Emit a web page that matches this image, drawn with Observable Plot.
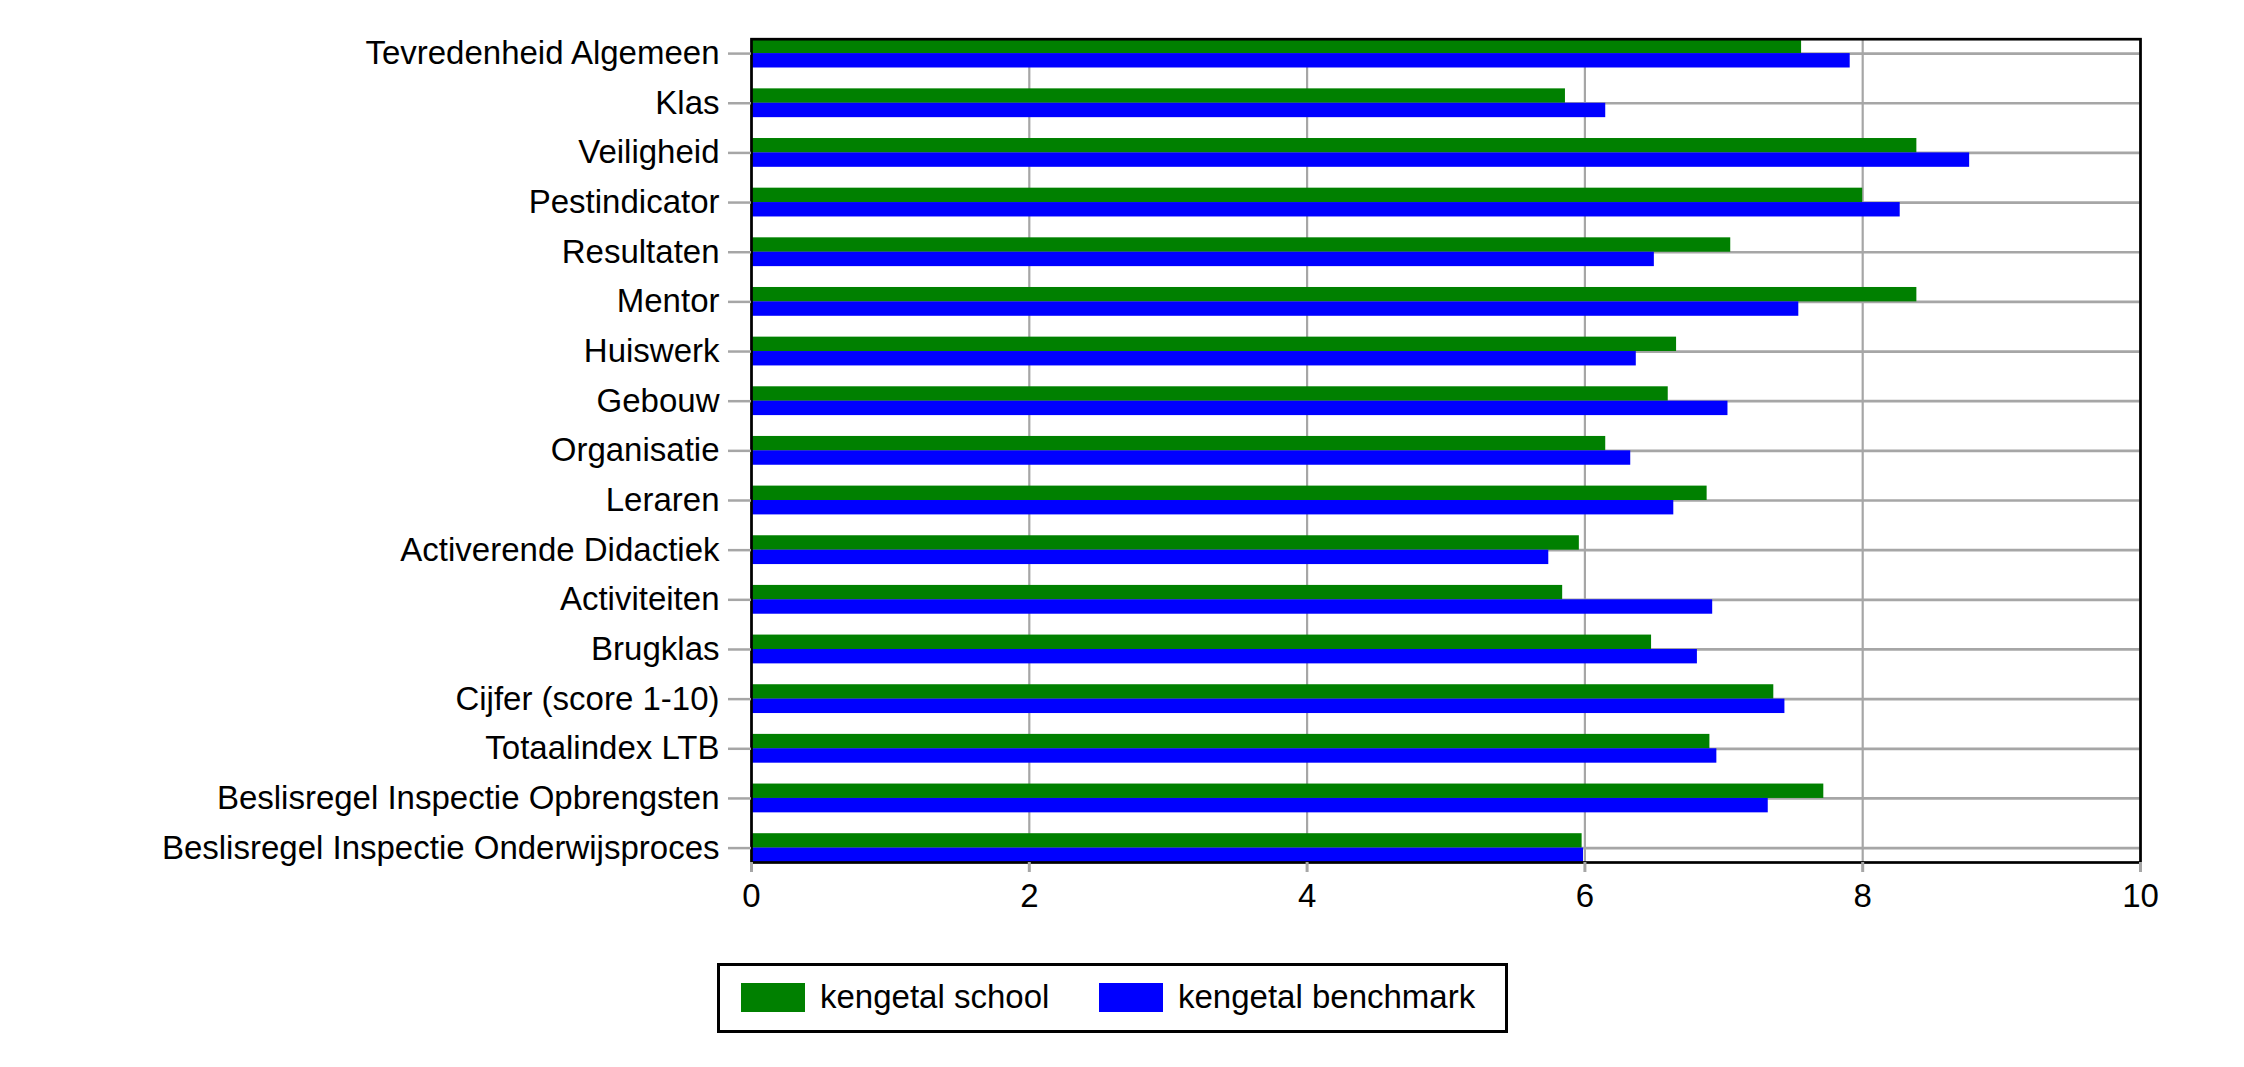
<!DOCTYPE html>
<html>
<head>
<meta charset="utf-8">
<script src="https://cdn.jsdelivr.net/npm/d3@7"></script>
<script src="https://cdn.jsdelivr.net/npm/@observablehq/plot@0.6"></script>
<style>
  html, body { margin: 0; padding: 0; background: #fff; }
  body { position: relative; width: 2244px; height: 1067px; font-family: "Liberation Sans", Arial, sans-serif; }
  #legend { position: absolute; left: 717px; top: 963px; width: 785px; height: 64px; border: 3px solid #000; box-sizing: content-box; }
  .sw { position: absolute; top: 17px; width: 64px; height: 29px; }
  .lt { position: absolute; top: 11px; font-size: 33px; line-height: 40px; color: #000; white-space: nowrap; }
</style>
</head>
<body>
<div id="chart"></div>
<div id="legend"></div>
<script>
const categories = [
  "Tevredenheid Algemeen",
  "Klas",
  "Veiligheid",
  "Pestindicator",
  "Resultaten",
  "Mentor",
  "Huiswerk",
  "Gebouw",
  "Organisatie",
  "Leraren",
  "Activerende Didactiek",
  "Activiteiten",
  "Brugklas",
  "Cijfer (score 1-10)",
  "Totaalindex LTB",
  "Beslisregel Inspectie Opbrengsten",
  "Beslisregel Inspectie Onderwijsproces"
];
const school    = [7.56, 5.86, 8.39, 8.00, 7.05, 8.39, 6.66, 6.60, 6.15, 6.88, 5.96, 5.84, 6.48, 7.36, 6.90, 7.72, 5.98];
const benchmark = [7.91, 6.15, 8.77, 8.27, 6.50, 7.54, 6.37, 7.03, 6.33, 6.64, 5.74, 6.92, 6.81, 7.44, 6.95, 7.32, 5.99];
const xTicks = [0, 2, 4, 6, 8, 10];
const seriesNames = ["kengetal school", "kengetal benchmark"];
const seriesColors = ["#008000", "#0000ff"];

const half = 14.4;
const grey = "#a6a6a6";

const chart = Plot.plot({
  width: 2244,
  height: 930,
  marginLeft: 751,
  marginRight: 104,
  marginTop: 38.7,
  marginBottom: 68,
  style: { fontFamily: '"Liberation Sans", Arial, sans-serif', fontSize: "33px", color: "#000", background: "#fff" },
  x: { domain: [0, 10], ticks: xTicks, label: null },
  y: { domain: categories, paddingInner: 0.42, paddingOuter: 0, round: false, label: null },
  marks: [
    Plot.gridX(xTicks, { stroke: grey, strokeOpacity: 1, strokeWidth: 2.2 }),
    Plot.ruleY(categories, { y: d => d, stroke: grey, strokeWidth: 2.7 }),
    Plot.barX(categories, { x: (d, i) => school[i], y: d => d, fill: seriesColors[0], insetBottom: half }),
    Plot.barX(categories, { x: (d, i) => benchmark[i], y: d => d, fill: seriesColors[1], insetTop: half }),
    Plot.frame({ stroke: "#000", strokeWidth: 2.7 }),
    Plot.axisY({ tickSize: 23, tickPadding: 9, stroke: grey, strokeWidth: 2.5, fontSize: 33, label: null }),
    Plot.axisX(xTicks, { tickSize: 10, tickPadding: 11, stroke: grey, strokeWidth: 3, fontSize: 33, label: null, tickFormat: d => String(d) })
  ]
});
document.getElementById("chart").appendChild(chart);

const legend = document.getElementById("legend");
const swLeft = [21, 379];
const txtLeft = [100, 458];
seriesNames.forEach((name, i) => {
  const sw = document.createElement("div");
  sw.className = "sw";
  sw.style.left = swLeft[i] + "px";
  sw.style.background = seriesColors[i];
  legend.appendChild(sw);
  const t = document.createElement("div");
  t.className = "lt";
  t.style.left = txtLeft[i] + "px";
  t.textContent = name;
  legend.appendChild(t);
});
</script>
</body>
</html>
